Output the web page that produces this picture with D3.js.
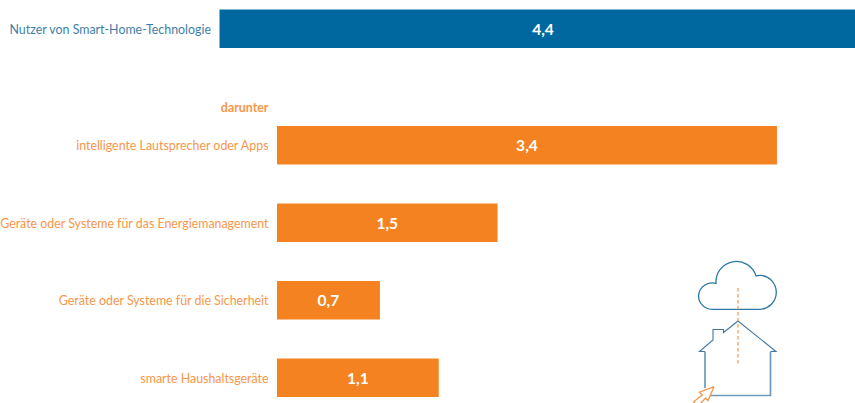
<!DOCTYPE html>
<html><head><meta charset="utf-8">
<script src="https://cdn.jsdelivr.net/npm/d3@7"></script>
<style>html,body{margin:0;padding:0;background:#fff;overflow:hidden}svg{display:block}text{font-family:"Lato",sans-serif}</style>
</head><body><div id="c"></div>
<script>
const mainCategory = ["Nutzer von Smart-Home-Technologie"];
const mainValues = [4.4];
const subHeading = "darunter";
const subCategories = ["intelligente Lautsprecher oder Apps","Geräte oder Systeme für das Energiemanagement","Geräte oder Systeme für die Sicherheit","smarte Haushaltsgeräte"];
const subValues = [3.4,1.5,0.7,1.1];

const W=855,H=403,BLUE="#00689f",ORANGE="#f58220",BLUET="#3f7fa8",ORANGET="#f7964a";
const svg=d3.select("#c").append("svg").attr("width",W).attr("height",H);
const fmt=v=>d3.format(".1f")(v).replace(".",",");
const unit=147.05;
const xMain=d3.scaleLinear().domain([0,4.4]).range([219.5,219.5+4.4*unit]);
const xSub=d3.scaleLinear().domain([0,3.4]).range([277,277+3.4*unit]);
const yMain=d3.scaleBand().domain(mainCategory).range([9.5,48]);
const yStep=77.5, yTop=126;
const hSub=38.5;

function row(g,data,x,y,h,fill,labelFill,labelX){
  const r=g.selectAll("g").data(data).join("g");
  r.append("rect").attr("x",x(0)).attr("y",d=>y(d.c)).attr("width",d=>x(d.v)-x(0)).attr("height",h).attr("fill",fill);
  r.append("text").attr("x",labelX).attr("y",d=>y(d.c)+h/2+0.5).attr("dy","0.36em").attr("text-anchor","end")
    .attr("font-size",12.4).attr("fill",labelFill).text(d=>d.c);
  r.append("text").attr("x",d=>(x(0)+x(d.v))/2).attr("y",d=>y(d.c)+h/2+0.5).attr("dy","0.36em").attr("text-anchor","middle")
    .attr("font-size",15.6).attr("font-weight",700).attr("fill","#fff").text(d=>fmt(d.v));
}
row(svg.append("g"),mainCategory.map((c,i)=>({c,v:mainValues[i]})),xMain,yMain,38.5,BLUE,BLUET,211);
row(svg.append("g"),subCategories.map((c,i)=>({c,v:subValues[i]})),xSub,d=>yTop+yStep*subCategories.indexOf(d),hSub,ORANGE,ORANGET,268.5);
svg.append("text").attr("x",268.5).attr("y",107.5).attr("dy","0.36em").attr("text-anchor","end").attr("font-size",12.4).attr("font-weight",700).attr("fill",ORANGET).text(subHeading);

// decorative icon
const icon=svg.append("g").attr("fill","none");
icon.append("path").attr("stroke","#2a78a8").attr("stroke-width",1.3)
 .attr("d","M713 309.3H760A17 17 0 0 0 761 275.4Q758.5 275.3 756 275.8A20.5 20.5 0 0 0 716 283.4A13.7 13.2 0 1 0 713 309.3Z");
icon.append("path").attr("stroke","#3f78a5").attr("stroke-width",1.1)
 .attr("d","M705 351.5H699.5L713 340V329.5H723.5V332.5L738 321L776 351.5H770.5");
icon.append("path").attr("stroke","#6f9abb").attr("stroke-width",1.7)
 .attr("d","M705 351.5V388M770.5 351.5V395.5H710");
icon.append("line").attr("x1",738).attr("x2",738).attr("y1",288).attr("y2",365).attr("stroke",ORANGET).attr("stroke-width",1.2).attr("stroke-dasharray","3.5 2.5");
icon.append("path").attr("stroke",ORANGET).attr("stroke-width",1.3)
 .attr("d","M714 386.7L699.3 392.2L702.3 395L693.7 401.7L696 404M700.5 403.5L705.5 398L708 400.5L714 386.7");
</script></body></html>
